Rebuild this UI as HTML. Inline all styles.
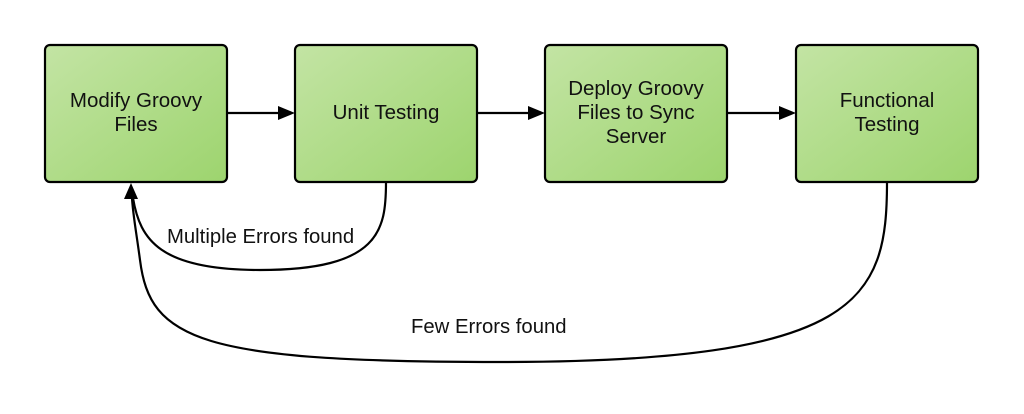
<!DOCTYPE html>
<html><head><style>
body{margin:0;background:#fff;width:1024px;height:409px;overflow:hidden;font-family:"Liberation Sans",sans-serif;}
</style></head><body>
<svg width="1024" height="409" viewBox="0 0 1024 409">
<defs>
<linearGradient id="g" x1="0" y1="0" x2="1" y2="1">
<stop offset="0" stop-color="#c3e4a4"/><stop offset="1" stop-color="#9dd46e"/>
</linearGradient>
</defs>
<g stroke="#000" stroke-width="2.2" fill="url(#g)">
<rect x="45" y="45" width="182" height="137" rx="5"/>
<rect x="295" y="45" width="182" height="137" rx="5"/>
<rect x="545" y="45" width="182" height="137" rx="5"/>
<rect x="796" y="45" width="182" height="137" rx="5"/>
</g>
<g stroke="#000" stroke-width="2.2" fill="none">
<line x1="227" y1="113" x2="280" y2="113"/>
<line x1="477" y1="113" x2="530" y2="113"/>
<line x1="727" y1="113" x2="781" y2="113"/>
<path d="M386 182 C386 230 380 270 260 270 C160 270 140 240 133 198"/>
<path d="M887 182 C887 300 860 362 500 362 C200 362 150 340 140 260 C136 230 133 215 132 198"/>
</g>
<g fill="#000">
<polygon points="295,113 278,106 278,120"/>
<polygon points="545,113 528,106 528,120"/>
<polygon points="796,113 779,106 779,120"/>
<polygon points="131,183 124,199 138,199"/>
</g>
<g font-size="20.5" text-anchor="middle" fill="#111">
<text x="136" y="107">Modify Groovy</text>
<text x="136" y="131">Files</text>
<text x="386" y="119">Unit Testing</text>
<text x="636" y="95">Deploy Groovy</text>
<text x="636" y="119">Files to Sync</text>
<text x="636" y="143">Server</text>
<text x="887" y="107">Functional</text>
<text x="887" y="131">Testing</text>
</g>
<g font-size="20.3" fill="#111">
<text x="167" y="243">Multiple Errors found</text>
<text x="411" y="333">Few Errors found</text>
</g>
</svg>
</body></html>
